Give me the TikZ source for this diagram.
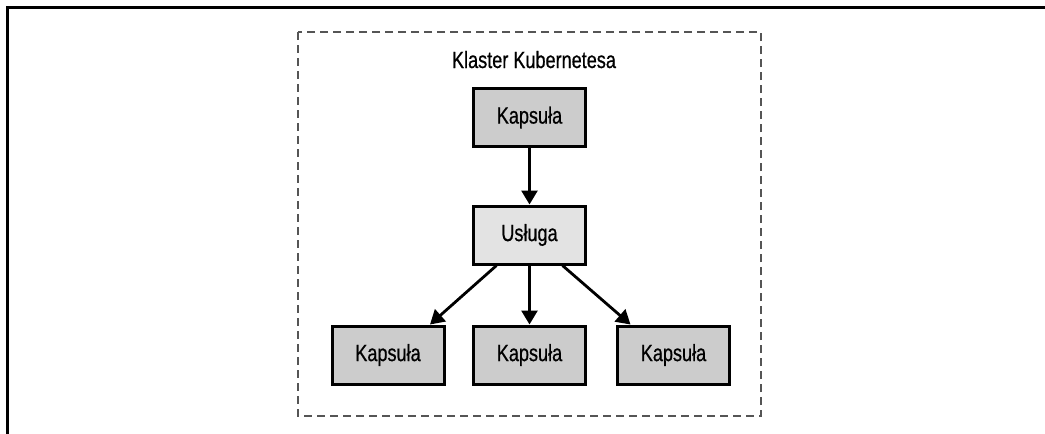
\documentclass[tikz,border=0pt]{standalone}
\usepackage{fontspec}
\setmainfont[FakeStretch=0.77,FakeBold=0.6]{Liberation Sans}
\usetikzlibrary{arrows.meta}
\definecolor{podfill}{HTML}{CCCCCC}
\definecolor{svcfill}{HTML}{E3E3E3}
\definecolor{dashgray}{HTML}{555555}
\tikzset{
  boxbase/.style={draw=black, line width=3pt, minimum width=112pt, minimum height=58pt, inner sep=0pt, font=\fontsize{23.5}{27}\selectfont},
  podbox/.style={boxbase, fill=podfill},
  svcbox/.style={boxbase, fill=svcfill},
  arr/.style={line width=2.8pt, -{Triangle[length=14pt,width=16pt]}},
  clusterframe/.style={draw=dashgray, line width=2.6pt, dash pattern=on 8pt off 5pt},
  outerframe/.style={draw=black, line width=2.6pt}
}
\begin{document}
\begin{tikzpicture}[x=1pt,y=-1pt]
\useasboundingbox (0,0) rectangle (1045,434);
\draw[outerframe] (7.5,434) -- (7.5,7.5) -- (1045,7.5);
\draw[clusterframe] (298,32) rectangle (761,416);
\node[anchor=base, font=\fontsize{23.5}{27}\selectfont] (title) at (534,68) {Klaster Kubernetesa};
\node[podbox] (p0) at (529.5,117.5) {Kapsuła};
\node[svcbox] (u) at (529.5,235) {Usługa};
\node[podbox] (p1) at (388,355) {Kapsuła};
\node[podbox] (p2) at (529.5,355) {Kapsuła};
\node[podbox] (p3) at (673.5,355) {Kapsuła};
\draw[arr] (p0.south) -- (u.north);
\draw[arr] ([xshift=-33pt]u.south) -- ([xshift=42pt]p1.north);
\draw[arr] (u.south) -- (p2.north);
\draw[arr] ([xshift=33pt]u.south) -- ([xshift=-43pt]p3.north);
\end{tikzpicture}
\end{document}
